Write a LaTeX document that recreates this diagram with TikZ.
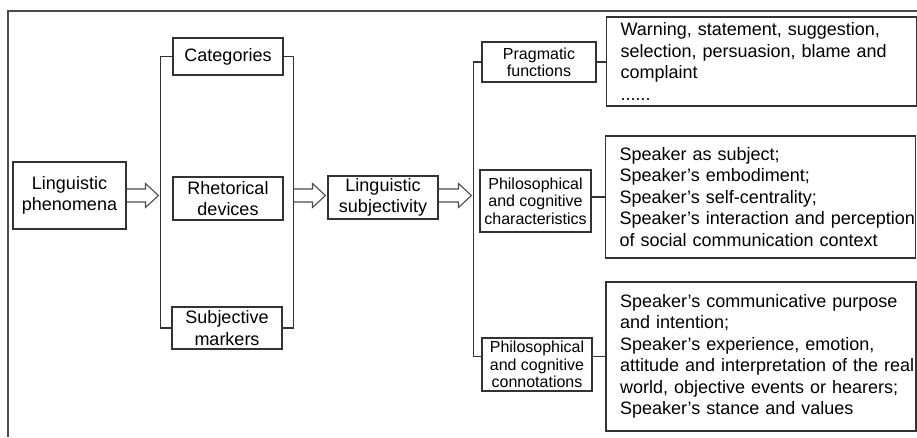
\documentclass[tikz,border=0pt]{standalone}
\usepackage{fontspec}
\setmainfont{Liberation Sans}
\usepackage{tikz}
\usetikzlibrary{calc}

\newcommand{\hollowarrow}[2]{%
  \draw[arrowline] ($(#1)+(0,-6.5)$) -- ($(#2)+(-15,-6.5)$) -- ($(#2)+(-15,-12)$)
    -- ($(#2)+(-2,0)$) -- ($(#2)+(-15,12)$) -- ($(#2)+(-15,6.5)$) -- ($(#1)+(0,6.5)$);
}

\begin{document}
\begin{tikzpicture}[x=1pt,y=-1pt,
    box/.style={draw=black!80, line width=1.1pt, inner sep=2pt, align=center,
      font=\fontsize{18}{21.5}\selectfont, minimum width=110, minimum height=37},
    smallbox/.style={box, font=\fontsize{16}{17.3}\selectfont},
    listbox/.style={draw=black!80, line width=1.1pt, align=left, text width=310,
      inner xsep=0, font=\fontsize{18}{21.5}\selectfont,
      execute at begin node={\leftskip=14pt\relax\hyphenpenalty=10000\relax}},
    link/.style={draw=black!80, line width=1.1pt},
    arrowline/.style={draw=black!70, line width=1.1pt, line join=miter}]

        \useasboundingbox (0,0) rectangle (917,437);
        \draw[black!70, line width=2pt] (917,11) -| (8,437);

        \node[box, minimum width=113, minimum height=67] (phen) at (69.5,195.5) {Linguistic\\phenomena};

        \node[box] (cat) at (228,56.5) {Categories};
        \node[box, minimum height=43] (rhet) at (228,198.5) {Rhetorical\\devices};
        \node[box, minimum height=42] (subj) at (227,328) {Subjective\\markers};

        \node[box, minimum height=43] (ling) at (383,197.5) {Linguistic\\subjectivity};

        \node[smallbox, minimum width=114, minimum height=40] (prag) at (539,62) {Pragmatic\\functions};
        \node[smallbox, minimum width=111, minimum height=62] (char) at (535.5,201) {Philosophical\\and cognitive\\characteristics};
        \node[smallbox, minimum width=110, minimum height=53] (conn) at (537,364.5) {Philosophical\\and cognitive\\connotations};

        \node[listbox, minimum height=89] (func) at (761.5,61.5) {Warning, statement, suggestion,\\selection, persuasion, blame and\\complaint\\......};
        \node[listbox, minimum height=122] (feat) at (760.5,197) {Speaker as subject;\\Speaker’s embodiment;\\Speaker’s self-centrality;\\Speaker’s interaction and perception\\of social communication context};
        \node[listbox, minimum height=149] (sense) at (761,356.5) {Speaker’s communicative purpose\\and intention;\\Speaker’s experience, emotion,\\attitude and interpretation of the real\\world, objective events or hearers;\\Speaker’s stance and values};

        \draw[link] (cat.west) -- ++(-12,0) coordinate (bl1) |- (subj.west);
        \draw[link] (cat.east) -- ++(10,0) coordinate (br1) |- (subj.east);
        \draw[link] (prag.west) -- ++(-8,0) coordinate (bl2) |- (conn.west |- sense.west);

        \draw[link] (prag.east) -- (prag.east -| func.west);
        \draw[link] (feat.west -| char.east) -- (feat.west);
        \draw[link] (sense.west -| conn.east) -- (sense.west);

        \hollowarrow{phen.east}{phen.east -| bl1}
        \hollowarrow{br1 |- phen.east}{ling.west |- phen.east}
        \hollowarrow{ling.east |- phen.east}{bl2 |- phen.east}

    \end{tikzpicture}
\end{document}
